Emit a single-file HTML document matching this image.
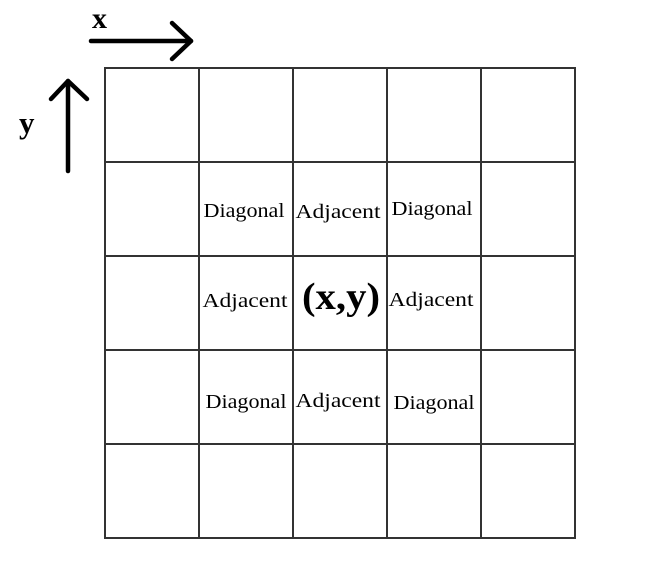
<!DOCTYPE html>
<html><head><meta charset="utf-8"><style>html,body{margin:0;padding:0;background:#fff;}svg{display:block}</style></head>
<body>
<svg width="662" height="564" viewBox="0 0 662 564" font-family="'Liberation Serif', serif">
<g stroke="#000" stroke-width="4.5" fill="none" stroke-linecap="round" stroke-linejoin="round">
<line x1="91" y1="41" x2="191" y2="41"/>
<polyline points="172,23 191,41 172,59"/>
</g>
<text x="92" y="28" font-size="30" font-weight="bold" textLength="18">x</text>
<g stroke="#000" stroke-width="4.5" fill="none" stroke-linecap="round" stroke-linejoin="round">
<line x1="68" y1="171" x2="68" y2="81"/>
<polyline points="51,99 68,81 87,99"/>
</g>
<text x="19" y="133" font-size="31" font-weight="bold" textLength="21">y</text>
<g id="grid" stroke="#333" stroke-width="2"></g>
<g font-size="20" text-anchor="middle" fill="#000" lengthAdjust="spacingAndGlyphs">
<text x="244" y="217" textLength="81" lengthAdjust="spacingAndGlyphs">Diagonal</text>
<text x="338" y="218" textLength="85" lengthAdjust="spacingAndGlyphs">Adjacent</text>
<text x="432" y="215" textLength="81" lengthAdjust="spacingAndGlyphs">Diagonal</text>
<text x="245" y="307" textLength="85" lengthAdjust="spacingAndGlyphs">Adjacent</text>
<text x="341" y="309" font-size="38" font-weight="bold" textLength="78" lengthAdjust="spacingAndGlyphs">(x,y)</text>
<text x="431" y="306" textLength="85" lengthAdjust="spacingAndGlyphs">Adjacent</text>
<text x="246" y="408" textLength="81" lengthAdjust="spacingAndGlyphs">Diagonal</text>
<text x="338" y="407" textLength="85" lengthAdjust="spacingAndGlyphs">Adjacent</text>
<text x="434" y="409" textLength="81" lengthAdjust="spacingAndGlyphs">Diagonal</text>
</g>
</svg>
<script>
const xLines=[105,199,293,387,481,575];
const yLines=[68,162,256,350,444,538];
const g=document.getElementById('grid');
const ns='http://www.w3.org/2000/svg';
xLines.forEach(x=>{const l=document.createElementNS(ns,'line');


l.setAttribute('x1',x);l.setAttribute('x2',x);l.setAttribute('y1',67);l.setAttribute('y2',539);g.appendChild(l);});
yLines.forEach(y=>{const l=document.createElementNS(ns,'line');


l.setAttribute('y1',y);l.setAttribute('y2',y);l.setAttribute('x1',104);l.setAttribute('x2',576);g.appendChild(l);});
</script>
</body></html>
